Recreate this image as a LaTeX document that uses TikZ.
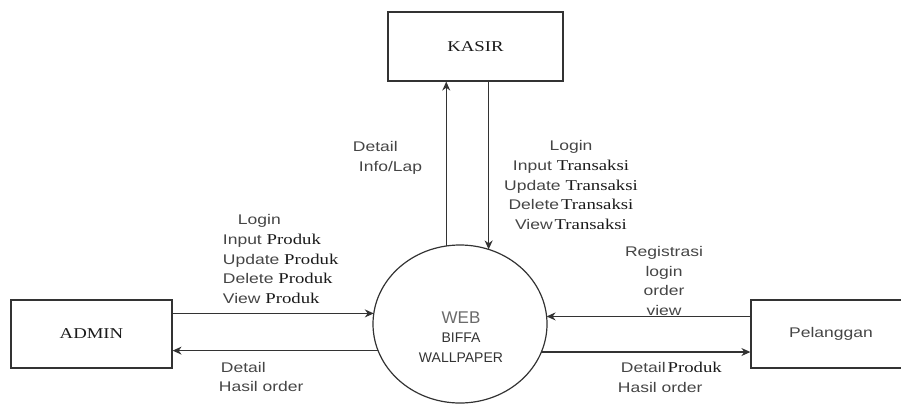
\documentclass[tikz,border=0pt]{standalone}
\usepackage{fontspec}
\usepackage{tikz}
\usetikzlibrary{shapes.geometric,arrows.meta}
\setmainfont{Liberation Sans}[FakeStretch=1.25]
\newfontfamily\serifdfd{Liberation Serif}[FakeStretch=1.25]
\newfontfamily\circdfd{Liberation Sans}
\definecolor{lblgray}{HTML}{454545}
\definecolor{linegray}{HTML}{333333}
\definecolor{serifblack}{HTML}{1A1A1A}
\newcommand{\tnr}[1]{{\fontsize{15}{19.8}\selectfont\serifdfd\color{serifblack}#1}}

\begin{document}
\begin{tikzpicture}[
            x = 1pt, y = -1pt, % pixel grid of the picture
            > = {Stealth[length=9pt,width=8pt]}, % arrow head style
            color = linegray,
            line width = 1.2pt, % line style
            every node/.style = {font=\fontsize{14}{19.8}\selectfont, text=lblgray},
            entity/.style = {shape=rectangle, draw=linegray, minimum height=68pt, inner sep=0pt}
        ]
\useasboundingbox (0,0) rectangle (901,405);

\node[entity, minimum width=161pt, text=serifblack] (admin) at (91.5,334) {\serifdfd\fontsize{15}{18}\selectfont ADMIN};
\node[entity, minimum width=175pt, minimum height=69pt, text=serifblack] (kasir) at (475.5,46.5) {\serifdfd\fontsize{15}{18}\selectfont KASIR};
\node[entity, minimum width=160pt] (pelanggan) at (831,334) {Pelanggan};
\node[shape=ellipse, draw=linegray, minimum width=174pt, minimum height=158pt, inner sep=0pt, outer sep=0pt] (web) at (460,324) {};
\node[align=center, text=linegray, font=\circdfd\fontsize{14}{19.5}\selectfont] (webtext) at (461,337)
     {{\color{lblgray!80}\fontsize{17}{19.5}\selectfont WEB}\\BIFFA\\WALLPAPER};

% data flows
\draw[->] (admin.east |- web.173) -- (web.173);
\draw[->] (web.198) -- (web.198 -| admin.east);
\draw[->] (web.100) -- (web.100 |- kasir.south);
\draw[->] (kasir.south -| web.69) -- (web.69);
\draw[->] (pelanggan.west |- web.5) -- (web.5);
\draw[->] (web.341) -- (web.341 -| pelanggan.west);

% flow labels
\node[anchor=west, align=left] (adminin) at (219,259)
     {\hspace{15pt}Login\\Input \tnr{Produk}\\Update \tnr{Produk}\\Delete \tnr{Produk}\\View \tnr{Produk}};
\node[anchor=west, align=left] (adminout) at (215,377) {\hspace{2pt}Detail\\Hasil order};
\node[anchor=west, align=left] (kasirout) at (349,158) {Detail\\\hspace{6pt}Info/Lap};
\node[align=center] (kasirin) at (571,185)
     {Login\hspace{16pt}\\Input \tnr{Transaksi}\\Update \tnr{Transaksi}\\Delete\hspace{2pt}\tnr{Transaksi}\\View\hspace{2pt}\tnr{Transaksi}};
\node[align=center] (pelin) at (664,281) {Registrasi\\login\\order\\view};
\node[anchor=west, align=left] (pelout) at (614,377) {\hspace{3pt}Detail\hspace{2pt}\tnr{Produk}\\Hasil order};
\end{tikzpicture}
\end{document}
